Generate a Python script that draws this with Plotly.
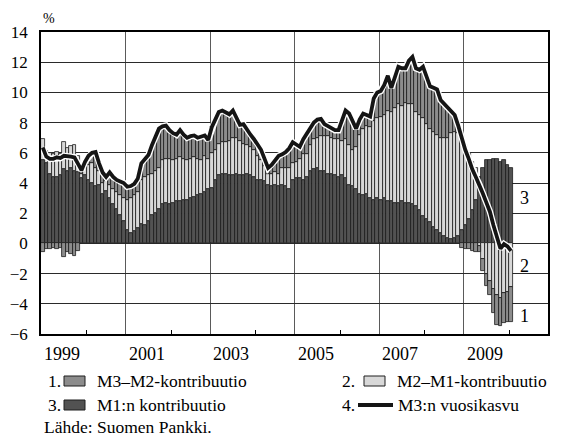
import pandas as pd
import plotly.graph_objects as go

# ---- data (monthly, Jan 1999 - Feb 2010), percentage points / % ----
months = pd.date_range("1999-01-01", periods=134, freq="MS")

m1_contrib = [
    5.5, 5.3, 4.6, 4.4, 4.4, 4.5, 4.9, 4.8, 5.0, 4.8, 4.7,
    4.3, 4.5, 4.2, 4.0, 3.8, 3.9, 3.3, 3.5, 3.0, 2.6, 2.3, 1.9, 1.5, 0.9, 0.7, 0.8, 1.0,
    1.3, 1.2, 1.5, 1.9, 2.0, 2.3, 2.6, 2.7, 2.6, 2.7, 2.8, 2.8, 2.9, 2.9, 3.0, 3.1, 3.2, 3.3, 3.4, 3.6,
    3.7, 4.2, 4.5, 4.6, 4.6, 4.5, 4.5, 4.6, 4.5, 4.5, 4.6, 4.5, 4.4, 4.2, 4.2, 4.1,
    3.9, 3.8, 3.9, 3.8, 3.9, 3.8, 3.6, 4.2, 4.3, 4.3, 4.2, 4.4, 4.8, 4.9, 5.0, 4.8, 4.8, 4.6, 4.6, 4.5,
    4.4, 4.5, 4.3, 3.9, 3.8, 3.6, 3.3, 3.2, 3.3, 3.0, 2.9, 3.0, 2.9, 3.0, 2.8, 2.8,
    2.7, 2.7, 2.8, 2.7, 2.7, 2.6,
    2.5, 2.2, 1.8, 1.6, 1.4, 1.1, 0.9, 0.7, 0.5, 0.35, 0.3, 0.35, 0.5, 0.9, 1.2, 1.6, 2.2, 2.9, 4.4, 5.0,
    5.5, 5.5, 5.6, 5.6, 5.4, 5.5, 5.2, 5.0,
]

m2m1_contrib = [
    1.4, 0.85, 1.4, 1.5, 1.65, 1.45, 1.8, 1.55, 1.45, 1.75, 1.1,
    0.3, 0.5, 1.0, 1.3, 1.2, 0.9, 0.7, 0.6, 0.9, 1.0, 1.1, 1.3, 1.5, 2.0, 2.3, 2.4, 2.4,
    2.9, 3.2, 3.0, 2.7, 2.8, 2.7, 2.9, 2.9, 3.0, 2.8, 2.8, 2.9, 2.7, 2.6, 2.6, 2.6, 2.4, 2.2, 2.4, 2.0,
    2.3, 2.0, 2.1, 2.1, 2.1, 2.3, 2.5, 2.4, 2.3, 2.1, 1.9, 1.9, 1.8, 1.6, 1.3, 1.0,
    0.7, 0.8, 0.8, 0.8, 1.1, 1.2, 1.4, 1.1, 1.1, 1.3, 1.7, 1.5, 1.7, 2.0, 2.0, 2.3, 2.3, 2.5, 2.4, 2.4,
    2.5, 2.3, 2.6, 2.6, 2.4, 2.8, 3.9, 4.4, 4.5, 4.7, 5.2, 5.3, 5.5, 5.5, 6.0, 5.9,
    6.3, 6.5, 6.3, 6.6, 6.5, 6.6,
    6.2, 6.3, 6.5, 6.3, 6.2, 6.3, 6.3, 6.3, 6.45, 6.65, 7.0, 7.05, 6.8, 6.3, 5.35, 4.4, 3.2, 2.1, -0.2, -1.0,
    -2.0, -2.5, -3.0, -3.4, -3.6, -3.3, -3.2, -2.9,
]

m3m2_contrib = [
    -0.55, -0.4, -0.4, -0.3, -0.35, -0.3, -0.9, -0.55, -0.7, -0.85, -0.5,
    0.25, 0.4, 0.6, 0.7, 1.05, 0.5, 0.7, 0.3, 0.8, 0.8, 0.8, 0.9, 1.0, 0.85, 0.8, 0.75, 0.9,
    1.1, 1.2, 1.35, 1.9, 2.3, 2.6, 2.25, 2.2, 1.9, 1.8, 1.6, 1.8, 1.6, 1.5, 1.5, 1.45, 1.4, 1.55, 1.35, 1.25,
    1.7, 2.0, 2.1, 2.1, 2.0, 1.75, 1.8, 1.3, 1.05, 1.3, 1.0, 0.8, 0.7, 0.8, 0.7, 0.5,
    0.4, 0.6, 0.8, 1.2, 0.9, 1.05, 1.3, 1.4, 1.15, 0.8, 1.0, 1.4, 1.2, 1.1, 1.2, 1.15, 0.8, 0.65, 0.6, 0.6,
    0.6, 1.3, 1.9, 2.1, 1.9, 1.2, 1.0, 1.0, 0.7, 0.7, 1.5, 1.7, 1.7, 2.0, 2.3, 1.6,
    2.0, 2.5, 2.5, 2.3, 2.9, 3.15,
    2.9, 3.0, 3.4, 3.2, 2.8, 2.9, 3.0, 2.5, 2.3, 2.0, 1.5, 1.1, 0.5, -0.3, -0.35, -0.4, -0.5, -0.6, -0.4, -0.8,
    -0.8, -0.9, -1.6, -2.0, -1.9, -2.0, -2.0, -2.3,
]

m3_growth = [
    6.35, 5.75, 5.6, 5.6, 5.7, 5.65, 5.8, 5.8, 5.75, 5.7, 5.3,
    4.85, 5.4, 5.8, 6.0, 6.05, 5.3, 4.7, 4.4, 4.7, 4.4, 4.2, 4.1, 4.0, 3.75, 3.8, 3.95, 4.3,
    5.3, 5.6, 5.85, 6.5, 7.1, 7.6, 7.75, 7.8, 7.5, 7.3, 7.2, 7.5, 7.2, 7.0, 7.1, 7.15, 7.0, 7.05, 7.15, 6.85,
    7.7, 8.2, 8.7, 8.8, 8.7, 8.55, 8.8, 8.3, 7.85, 7.9, 7.5, 7.2, 6.9, 6.6, 6.2, 5.6,
    5.0, 5.2, 5.5, 5.8, 5.9, 6.05, 6.3, 6.7, 6.55, 6.4, 6.9, 7.3, 7.7, 8.0, 8.2, 8.25, 7.9, 7.75, 7.6, 7.5,
    7.5, 8.1, 8.8, 8.6, 8.1, 7.6, 8.2, 8.6, 8.5, 8.4, 9.6, 10.0, 10.1, 10.5, 11.1, 10.3,
    11.0, 11.7, 11.6, 11.6, 12.1, 12.35,
    11.6, 11.5, 11.7, 11.1, 10.4, 10.3, 10.2, 9.5, 9.25, 9.0, 8.8, 8.5, 7.8, 6.9, 6.2, 5.6, 4.9, 4.4, 3.9, 3.3,
    2.7, 2.1, 1.2, 0.3, -0.35, -0.05, -0.2, -0.5,
]

year_labels = ["1999", "2001", "2003", "2005", "2007", "2009"]
y_ticks = [-6, -4, -2, 0, 2, 4, 6, 8, 10, 12, 14]

legend_texts = ["M3–M2-kontribuutio", "M2–M1-kontribuutio", "M1:n kontribuutio", "M3:n vuosikasvu"]
source_text = "Lähde: Suomen Pankki."

# decimal-year positions (month centres)
x = [d.year + (d.month - 0.5) / 12 for d in months]

C_DARK = "#525252"
C_LIGHT = "#d8d8d8"
C_MED = "#8c8c8c"
FONT = "Times New Roman, Liberation Serif, DejaVu Serif, serif"

fig = go.Figure()
bar_line = dict(color="#1a1a1a", width=0.8)
fig.add_trace(go.Bar(x=x, y=m1_contrib, width=1 / 12, marker=dict(color=C_DARK, line=bar_line), name=legend_texts[2]))
fig.add_trace(go.Bar(x=x, y=m2m1_contrib, width=1 / 12, marker=dict(color=C_LIGHT, line=bar_line), name=legend_texts[1]))
fig.add_trace(go.Bar(x=x, y=m3m2_contrib, width=1 / 12, marker=dict(color=C_MED, line=bar_line), name=legend_texts[0]))
fig.add_trace(go.Scatter(x=x, y=m3_growth, mode="lines", line=dict(color="white", width=6.5), hoverinfo="skip"))
fig.add_trace(go.Scatter(x=x, y=m3_growth, mode="lines", line=dict(color="#151515", width=3.8), name=legend_texts[3]))

# layout geometry: the page body adds an 8px offset, so the figure is 8px smaller
OFF = 8
W, H = 561 - OFF, 439 - OFF
ML, MR, MT, MB = 41 - OFF, 13, 32 - OFF, 105
PW, PH = W - ML - MR, H - MT - MB


def px(xp):
    # reference-page pixel x -> paper fraction
    return (xp - OFF - ML) / PW


def py(yp):
    # reference-page pixel y -> paper fraction
    return (MT + PH - (yp - OFF)) / PH


fig.update_layout(
    width=W, height=H,
    margin=dict(l=ML, r=MR, t=MT, b=MB, pad=0, autoexpand=False),
    barmode="relative", bargap=0,
    showlegend=False,
    plot_bgcolor="white", paper_bgcolor="white",
    font=dict(family=FONT, size=17, color="black"),
)

fig.update_xaxes(
    range=[1999, 2011], automargin=False,
    tickmode="array",
    tickvals=[yr + 1 / 12 for yr in range(2000, 2011, 2)],
    ticks="inside", ticklen=4, tickwidth=1, tickcolor="black",
    showticklabels=False,
    showgrid=False,
    minor=dict(tickmode="array", tickvals=[2001, 2003, 2005, 2007, 2009],
               showgrid=True, gridcolor="#5a5a5a", gridwidth=1.2, ticks=""),
    showline=True, linecolor="black", linewidth=1.5, mirror=True,
    zeroline=False,
)
fig.update_yaxes(
    range=[-6, 14], automargin=False,
    tickmode="array", tickvals=y_ticks,
    ticks="", ticklabelstandoff=8,
    tickfont=dict(family=FONT, size=17),
    showgrid=True, gridcolor="#2a2a2a", gridwidth=1,
    zeroline=True, zerolinecolor="#2a2a2a", zerolinewidth=1,
    showline=True, linecolor="black", linewidth=1.5, mirror=True,
)

TXT = dict(family=FONT, size=17.5, color="black")
ann = []
for lab in year_labels:
    ann.append(dict(x=int(lab) + 0.5, xref="x", y=py(354), yref="paper", text=lab,
                    showarrow=False, xanchor="center", yanchor="middle", font=dict(family=FONT, size=18)))
ann.append(dict(x=px(49), y=py(9), xref="paper", yref="paper", text="%", showarrow=False,
                xanchor="center", yanchor="top", font=dict(family=FONT, size=14)))
for t, yv in [("3", 3.0), ("2", -1.5), ("1", -4.8)]:
    ann.append(dict(x=2010.3, xref="x", y=yv, yref="y", text=t, showarrow=False,
                    xanchor="left", yanchor="middle", font=dict(family=FONT, size=18)))

shapes = []
rows = [(381, 46, "1.", 64, C_MED, legend_texts[0]),
        (381, 340, "2.", 364, C_LIGHT, legend_texts[1]),
        (405, 46, "3.", 64, C_DARK, legend_texts[2])]
for yc, xn, num, xb, col, txt in rows:
    ann.append(dict(x=px(xn), y=py(yc), xref="paper", yref="paper", text=num, showarrow=False,
                    xanchor="left", yanchor="middle", font=TXT))
    shapes.append(dict(type="rect", xref="paper", yref="paper", x0=px(xb), x1=px(xb + 21),
                       y0=py(yc + 5), y1=py(yc - 5), fillcolor=col, line=dict(color="#1e1e1e", width=1)))
    ann.append(dict(x=px(xb + 31), y=py(yc), xref="paper", yref="paper", text=txt, showarrow=False,
                    xanchor="left", yanchor="middle", font=TXT))
ann.append(dict(x=px(340), y=py(405), xref="paper", yref="paper", text="4.", showarrow=False,
                xanchor="left", yanchor="middle", font=TXT))
shapes.append(dict(type="line", xref="paper", yref="paper", x0=px(358), x1=px(393), y0=py(405), y1=py(405),
                   line=dict(color="#151515", width=4)))
ann.append(dict(x=px(396), y=py(405), xref="paper", yref="paper", text=legend_texts[3], showarrow=False,
                xanchor="left", yanchor="middle", font=TXT))
ann.append(dict(x=px(42), y=py(427), xref="paper", yref="paper", text=source_text, showarrow=False,
                xanchor="left", yanchor="middle", font=TXT))

fig.update_layout(annotations=ann, shapes=shapes)
fig.write_html("out.html")
